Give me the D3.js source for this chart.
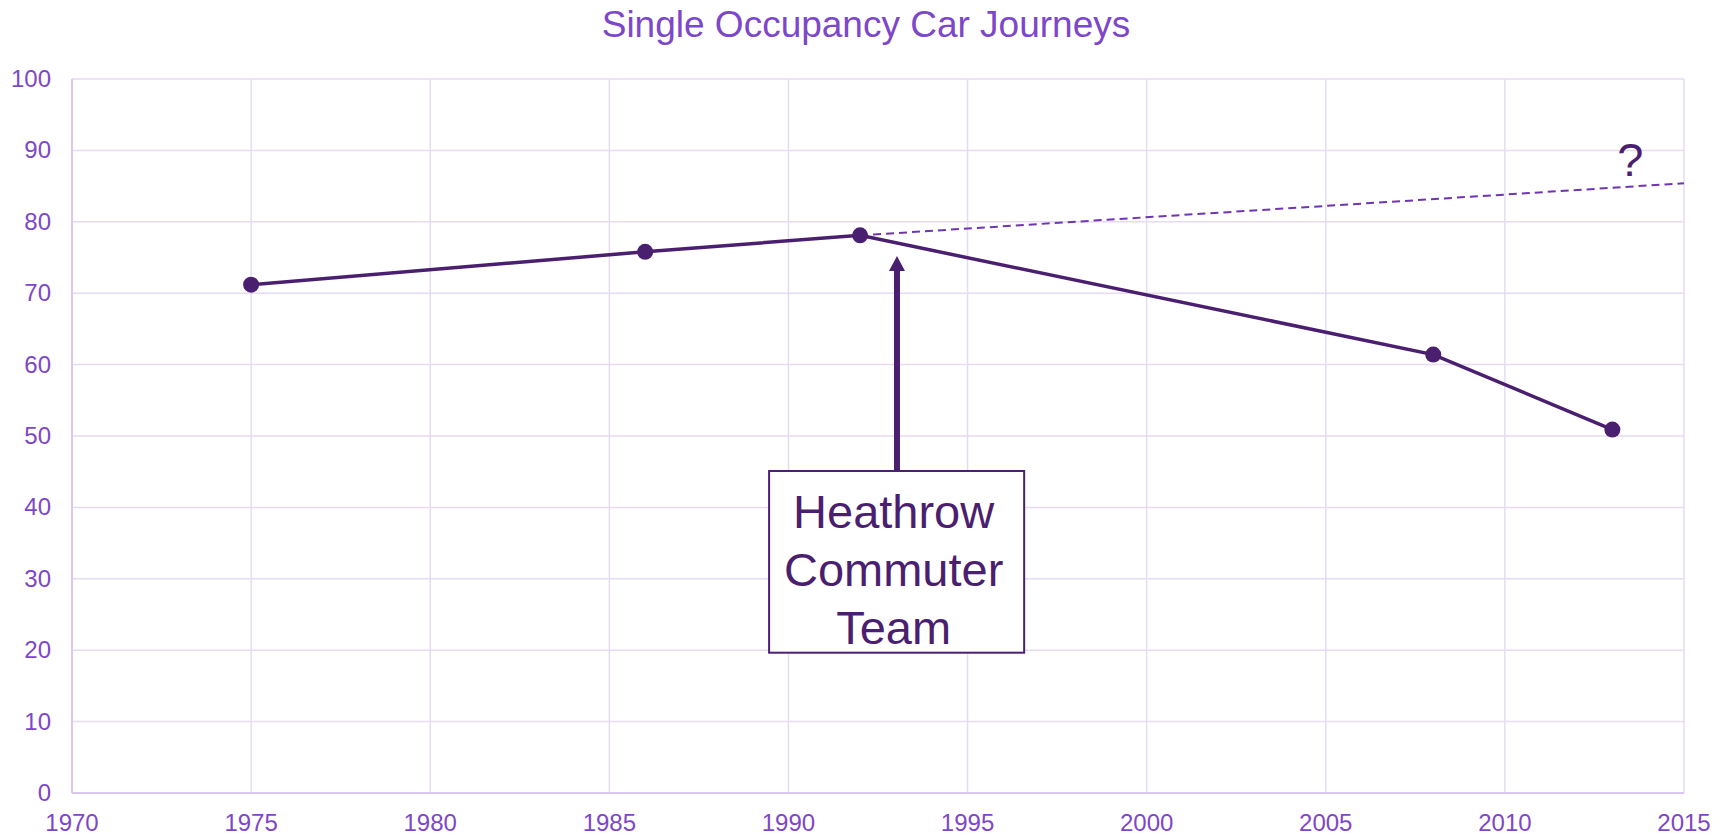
<!DOCTYPE html>
<html>
<head>
<meta charset="utf-8">
<script src="https://cdn.jsdelivr.net/npm/d3@7"></script>
<style>
  body { margin: 0; background: #fff; }
  text { font-family: Arial, "Liberation Sans", sans-serif; }
</style>
</head>
<body>
<svg id="chart" width="1723" height="836"></svg>
<script>
// chart data
const years = [1975, 1986, 1992, 2008, 2013];
const values = [71.2, 75.8, 78.1, 61.4, 50.9];
// projected trend from 1992 onwards
const trendYears = [1992, 2015];
const trendValues = [78.1, 85.4];
const xTicks = [1970, 1975, 1980, 1985, 1990, 1995, 2000, 2005, 2010, 2015];
const yTicks = [0, 10, 20, 30, 40, 50, 60, 70, 80, 90, 100];
const title = "Single Occupancy Car Journeys";
const boxLines = ["Heathrow", "Commuter", "Team"];

const width = 1723;
const height = 836;
const margin = { top: 79, right: 39, bottom: 43, left: 72 };

const svg = d3.select("#chart");

const x = d3.scaleLinear()
  .domain([1970, 2015])
  .range([margin.left, width - margin.right]);

const y = d3.scaleLinear()
  .domain([0, 100])
  .range([height - margin.bottom, margin.top]);

const dark = "#4b1f6f";
const labelColor = "#7d47c9";

// grid
svg.append("g")
  .selectAll("line")
  .data(yTicks)
  .join("line")
    .attr("x1", x(1970))
    .attr("x2", x(2015))
    .attr("y1", d => y(d))
    .attr("y2", d => y(d))
    .attr("stroke", "#e6dbf3")
    .attr("stroke-width", 1.5);

svg.append("g")
  .selectAll("line")
  .data(xTicks)
  .join("line")
    .attr("x1", d => x(d))
    .attr("x2", d => x(d))
    .attr("y1", y(0))
    .attr("y2", y(100))
    .attr("stroke", "#e6dbf3")
    .attr("stroke-width", 1.5);

// axes (only the lines, labels drawn below)
svg.append("line")
  .attr("x1", x(1970)).attr("x2", x(1970))
  .attr("y1", y(0)).attr("y2", y(100))
  .attr("stroke", "#dac6f0").attr("stroke-width", 2);
svg.append("line")
  .attr("x1", x(1970)).attr("x2", x(2015))
  .attr("y1", y(0)).attr("y2", y(0))
  .attr("stroke", "#dac6f0").attr("stroke-width", 2);

// tick labels
svg.append("g")
  .selectAll("text")
  .data(yTicks)
  .join("text")
    .attr("x", margin.left - 21)
    .attr("y", d => y(d) + 8)
    .attr("text-anchor", "end")
    .attr("font-size", 24)
    .attr("fill", labelColor)
    .text(d => d);

svg.append("g")
  .selectAll("text")
  .data(xTicks)
  .join("text")
    .attr("x", d => x(d))
    .attr("y", y(0) + 38)
    .attr("text-anchor", "middle")
    .attr("font-size", 24)
    .attr("fill", labelColor)
    .text(d => d);

// title
svg.append("text")
  .attr("x", 866)
  .attr("y", 37)
  .attr("text-anchor", "middle")
  .attr("font-size", 37)
  .attr("fill", labelColor)
  .text(title);

// dashed trend
svg.append("path")
  .datum(trendYears.map((d, i) => [d, trendValues[i]]))
  .attr("d", d3.line().x(d => x(d[0])).y(d => y(d[1])))
  .attr("fill", "none")
  .attr("stroke", "#7035b0")
  .attr("stroke-width", 2)
  .attr("stroke-dasharray", "8,5");

// main series
const pts = years.map((d, i) => [d, values[i]]);
svg.append("path")
  .datum(pts)
  .attr("d", d3.line().x(d => x(d[0])).y(d => y(d[1])))
  .attr("fill", "none")
  .attr("stroke", dark)
  .attr("stroke-width", 3.5);

svg.append("g")
  .selectAll("circle")
  .data(pts)
  .join("circle")
    .attr("cx", d => x(d[0]))
    .attr("cy", d => y(d[1]))
    .attr("r", 8)
    .attr("fill", dark);

// question mark
svg.append("text")
  .attr("x", x(2013.5))
  .attr("y", y(86.4))
  .attr("text-anchor", "middle")
  .attr("font-size", 47)
  .attr("fill", dark)
  .text("?");

// annotation box with arrow
const boxX0 = x(1989.46), boxX1 = x(1996.58);
const boxY0 = y(45.1), boxY1 = y(19.65);
const arrowX = x(1993.03);
const arrowTip = y(75.2);

svg.append("line")
  .attr("x1", arrowX).attr("x2", arrowX)
  .attr("y1", boxY0).attr("y2", arrowTip + 14)
  .attr("stroke", dark)
  .attr("stroke-width", 6);
svg.append("path")
  .attr("d", `M${arrowX},${arrowTip} L${arrowX - 8},${arrowTip + 15} L${arrowX + 8},${arrowTip + 15} Z`)
  .attr("fill", dark);

svg.append("rect")
  .attr("x", boxX0)
  .attr("y", boxY0)
  .attr("width", boxX1 - boxX0)
  .attr("height", boxY1 - boxY0)
  .attr("fill", "#fff")
  .attr("stroke", dark)
  .attr("stroke-width", 2);

svg.append("g")
  .selectAll("text")
  .data(boxLines)
  .join("text")
    .attr("x", (boxX0 + boxX1) / 2 - 3)
    .attr("y", (d, i) => boxY0 + 57 + i * 58)
    .attr("text-anchor", "middle")
    .attr("font-size", 47)
    .attr("fill", dark)
    .text(d => d);
</script>
</body>
</html>
